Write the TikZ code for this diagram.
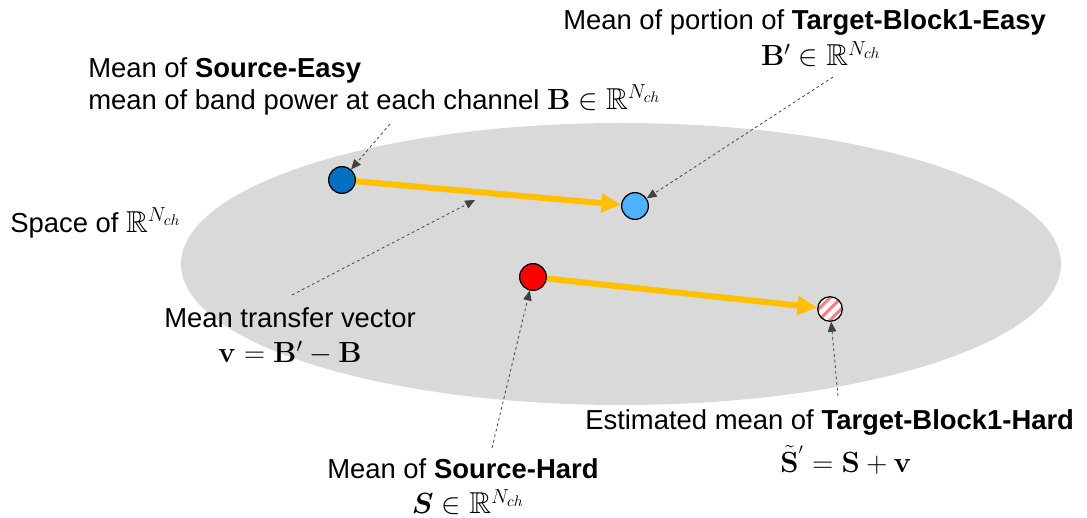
\documentclass[tikz,border=0pt]{standalone}
\usepackage{amsmath,amssymb,bm}
\usepackage[no-math]{fontspec}
\setmainfont{Liberation Sans}
\usetikzlibrary{arrows.meta}
\definecolor{ellgray}{HTML}{D9D9D9}
\definecolor{darkblue}{HTML}{0070C0}
\definecolor{lightblue}{HTML}{4DB3FF}
\definecolor{arrowyellow}{HTML}{FFC000}
\definecolor{hatchred}{HTML}{FF7C80}
\newcommand{\mbig}[1]{{\fontsize{21.5}{23}\selectfont$#1$}}
\tikzset{
  pt/.style={circle,draw=black,line width=0.9pt,minimum size=19pt,inner sep=0pt},
  hatched/.style={pt,minimum size=17.5pt,fill=white,
    path picture={
      \foreach \k in {-24,-16,...,24} {
        \draw[hatchred,line width=2.2pt] ([xshift=\k pt-12pt,yshift=-12pt]path picture bounding box.center) -- ([xshift=\k pt+12pt,yshift=12pt]path picture bounding box.center);
      }}},
  mv/.style={draw=arrowyellow,line width=4.3pt,-{Triangle[length=14pt,width=13pt]}},
  anno/.style={draw=black!75,dash pattern=on 2pt off 2pt,line width=0.55pt,-{Triangle[length=7pt,width=6pt]}},
  lbl/.style={font=\fontsize{19.5}{23}\selectfont,inner sep=0pt},
}
\begin{document}
\begin{tikzpicture}[x=0.025cm,y=-0.025cm]
\useasboundingbox (0,0) rectangle (1087,518);
\fill[ellgray] (621,264) ellipse [x radius=440, y radius=141];

% points
\node[pt,fill=darkblue] (b) at (342,180) {};
\node[pt,fill=lightblue] (bp) at (635,206) {};
\node[pt,fill=red] (s) at (533,277) {};
\node[hatched] (st) at (830,309) {};

% yellow vectors
\draw[mv] (b) -- (bp);
\draw[mv] (s) -- (st);
\coordinate (vmid) at (475,200);

% labels
\node[lbl,anchor=west] (t1a) at (563,22) {Mean of portion of \textbf{Target-Block1-Easy}};
\node[lbl] (t1b) at (821,54) {\mbig{\mathbf{B'}\in\mathbb{R}^{N_{ch}}}};
\node[lbl,anchor=west] (t2a) at (88,70) {Mean of \textbf{Source-Easy}};
\node[lbl,anchor=west] (t2b) at (88,100) {mean of band power at each channel \mbig{\mathbf{B}\in\mathbb{R}^{N_{ch}}}};
\node[lbl,anchor=west] (t3) at (10,223) {Space of \mbig{\mathbb{R}^{N_{ch}}}};
\node[lbl] (t4a) at (290,318) {Mean transfer vector};
\node[lbl] (t4b) at (290,353) {\mbig{\mathbf{v}=\mathbf{B'}-\mathbf{B}}};
\node[lbl,anchor=west] (t5a) at (585,422) {Estimated mean of \textbf{Target-Block1-Hard}};
\node[lbl] (t5b) at (846,460) {\mbig{\tilde{\mathbf{S}}^{'}=\mathbf{S}+\mathbf{v}}};
\node[lbl,anchor=west] (t6a) at (327,469) {Mean of \textbf{Source-Hard}};
\node[lbl] (t6b) at (468,502) {\mbig{\bm{S}\in\mathbb{R}^{N_{ch}}}};

% annotation arrows
\coordinate (a1) at (390,124);
\coordinate (a2) at (833,77);
\coordinate (a3) at (292,295);
\coordinate (a4) at (492,448);
\coordinate (a5) at (838,396);
\draw[anno] (a1) -- (b);
\draw[anno] (a2) -- (bp);
\draw[anno] (a3) -- (vmid);
\draw[anno] (a4) -- (s);
\draw[anno] (a5) -- (st);
\end{tikzpicture}
\end{document}
